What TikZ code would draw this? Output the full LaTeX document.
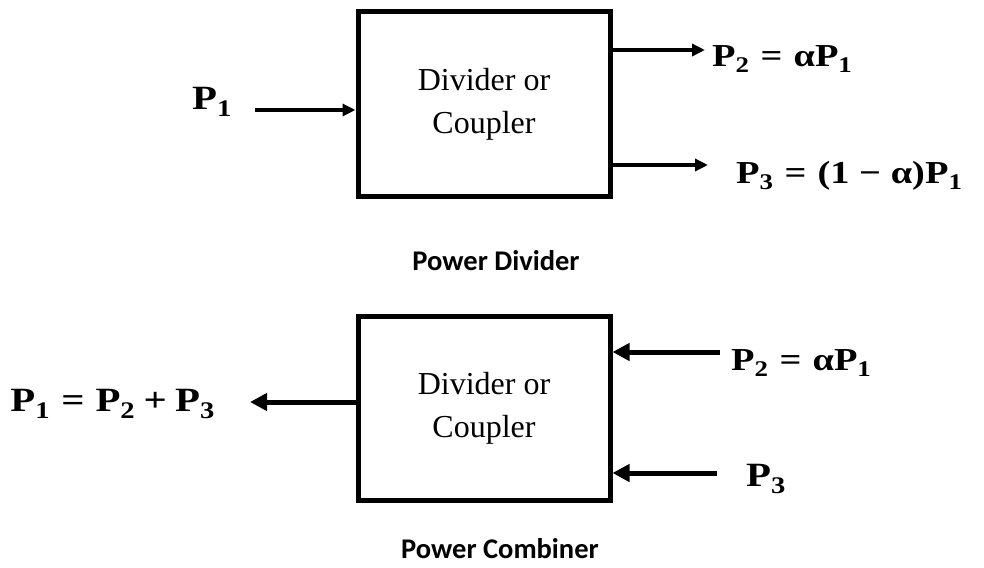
\documentclass[tikz,border=0pt]{standalone}
\usepackage{amsmath}
\usepackage{fontspec}
\setmainfont{Liberation Serif}
\newfontfamily\captionfont{Carlito}
\newfontfamily\lblfont{Liberation Serif}[FakeStretch=1.2]
\usetikzlibrary{arrows.meta}
\newcommand{\pw}[1]{\textbf{P}_{\textbf{#1}}}
\newcommand{\alf}{\textbf{α}}
\newcommand{\eq}{\mskip3mu\mathrel{\textbf{=}}\mskip3mu}
\newcommand{\pl}{\mskip2mu\mathbin{\textbf{+}}\mskip2mu}
\newcommand{\mn}{\mskip3mu\mathbin{\textbf{−}}\mskip3mu}

\begin{document}
\begin{tikzpicture}[x=1pt, y=-1pt,
    blockbox/.style={draw, line width=5pt, minimum width=252pt, minimum height=184pt,
        align=center, font=\fontsize{32}{43}\selectfont},
    lbl/.style={inner sep=0pt, font=\lblfont\fontsize{34}{40}\selectfont},
    sml/.style={inner sep=0pt, font=\lblfont\fontsize{32}{36}\selectfont},
    title/.style={inner sep=0pt, font=\captionfont\bfseries\fontsize{28.5}{32}\selectfont},
    thin arr/.style={line width=3.5pt, -{Triangle[length=13pt,width=12pt]}},
    fat arr/.style={line width=5pt, -{Triangle[length=17pt,width=17pt]}}]
    \useasboundingbox (0,0) rectangle (984,567);

    % power divider
    \node[blockbox] (div) at (484,104) {Divider or\\Coupler};
    \node[lbl, anchor=east] (pin) at (232,102) {$\pw{1}$};
    \coordinate (inend) at (255,110);
    \draw[thin arr] (inend) -- (div.west |- inend);
    \coordinate (outa) at (705,50);
    \coordinate (outb) at (708,165);
    \draw[thin arr] (div.east |- outa) -- (outa);
    \draw[thin arr] (div.east |- outb) -- (outb);
    \node[sml, anchor=west] (pa) at (712,59) {$\pw{2} \eq \alf\pw{1}$};
    \node[sml, anchor=west] (pb) at (736,176) {$\pw{3} \eq \textbf{(1} \mn \alf\textbf{)}\pw{1}$};
    \node[title] (dname) at (496,261) {Power Divider};

    % power combiner
    \node[blockbox] (comb) at (484,408) {Divider or\\Coupler};
    \coordinate (outc) at (250,402);
    \draw[fat arr] (comb.west |- outc) -- (outc);
    \node[lbl, anchor=east] (psum) at (215,404) {$\pw{1} \eq \pw{2} \pl \pw{3}$};
    \coordinate (ina) at (720,352);
    \coordinate (inb) at (717,473);
    \draw[fat arr] (ina) -- (comb.east |- ina);
    \draw[fat arr] (inb) -- (comb.east |- inb);
    \node[sml, anchor=west] (qa) at (731,363) {$\pw{2} \eq \alf\pw{1}$};
    \node[lbl, anchor=west] (qb) at (746,479) {$\pw{3}$};
    \node[title] (cname) at (500,549) {Power Combiner};
\end{tikzpicture}
\end{document}
